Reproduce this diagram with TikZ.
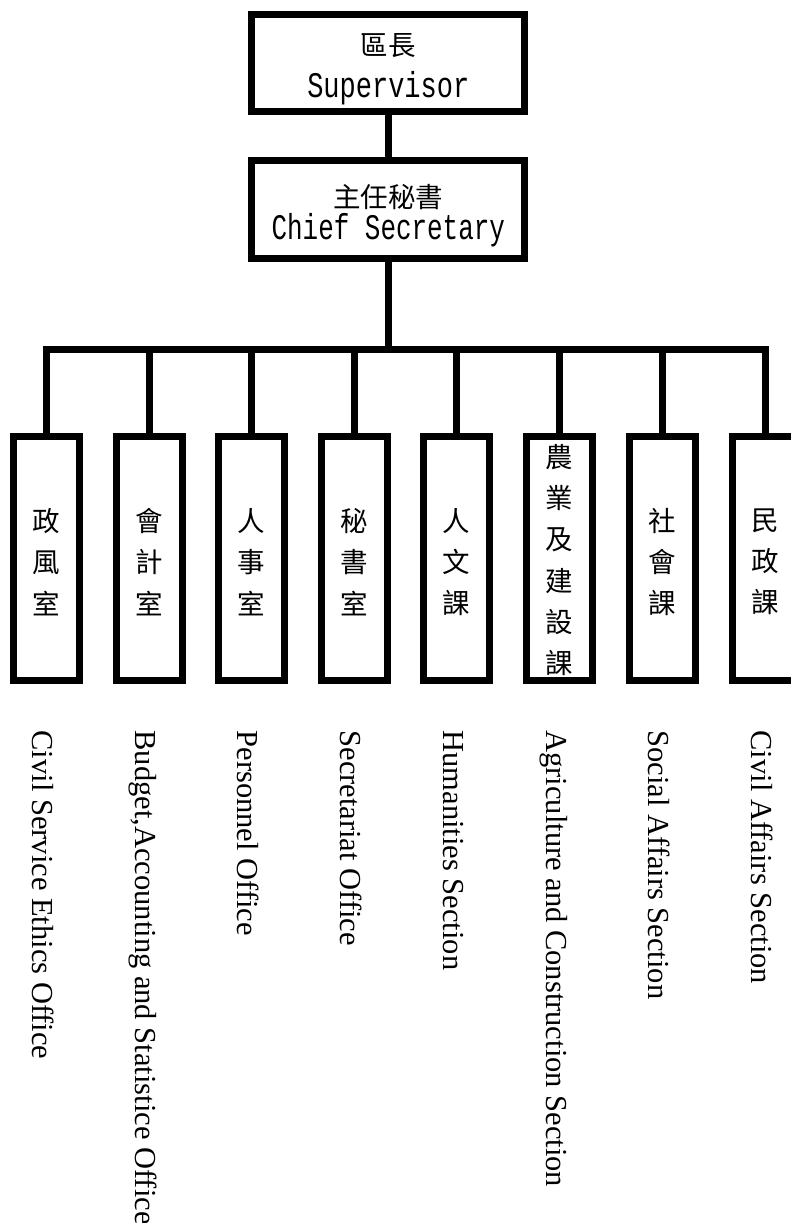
\documentclass[tikz,border=0pt]{standalone}
\usepackage{fontspec}
\setmainfont{Liberation Serif}
\newfontfamily\cjk{Noto Sans CJK TC}
\newfontfamily\monoA[FakeStretch=0.75]{Liberation Mono}
\newfontfamily\monoB[FakeStretch=0.72]{Liberation Mono}
\begin{document}
\begin{tikzpicture}[x=1pt,y=-1pt,line width=7pt,
  box/.style={draw,inner sep=0pt},
  headbox/.style={box,minimum width=273.3pt,minimum height=97.7pt},
  unitbox/.style={box,minimum width=66pt,minimum height=244.3pt},
  zhhead/.style={font=\cjk\fontsize{27.5}{27.5}\selectfont,inner sep=0pt},
  enheadA/.style={font=\monoA\fontsize{36}{36}\selectfont,inner sep=0pt,anchor=base},
  enheadB/.style={font=\monoB\fontsize{36}{36}\selectfont,inner sep=0pt,anchor=base},
  zhunit/.style={font=\cjk\fontsize{27.5}{41.2}\selectfont,align=center,inner sep=0pt},
  enlabel/.style={font=\fontsize{30.5}{30.5}\selectfont,rotate=-90,anchor=base west,inner sep=0pt}]
\clip (0,0) rectangle (791,1223);
\fill[white] (0,0) rectangle (791,1223);
% head boxes
\node[headbox] (sup) at (388.3,62.9) {};
\node[zhhead] (supzh) at (388.3,46) {區長};
\node[enheadA] (supen) at (388.3,97) {Supervisor};
\node[headbox] (chief) at (388.3,209.2) {};
\node[zhhead] (chiefzh) at (388.3,197.5) {主任秘書};
\node[enheadB] (chiefen) at (388.3,239) {Chief Secretary};
% unit boxes
\node[unitbox] (u1) at (46,558.3) {};
\node[unitbox] (u2) at (149,558.3) {};
\node[unitbox] (u3) at (251,558.3) {};
\node[unitbox] (u4) at (354,558.3) {};
\node[unitbox] (u5) at (456.5,558.3) {};
\node[unitbox] (u6) at (559.5,558.3) {};
\node[unitbox] (u7) at (662,558.3) {};
\node[unitbox] (u8) at (765,558.3) {};
% unit texts
\node[zhunit] (z1) at (46,562) {政\\風\\室};
\node[zhunit] (z2) at (149,562) {會\\計\\室};
\node[zhunit] (z3) at (251,562) {人\\事\\室};
\node[zhunit] (z4) at (354,562) {秘\\書\\室};
\node[zhunit] (z5) at (456.5,562) {人\\文\\課};
\node[zhunit] (z6) at (559.5,560) {農\\業\\及\\建\\設\\課};
\node[zhunit] (z7) at (662,562) {社\\會\\課};
\node[zhunit] (z8) at (765,562) {民\\政\\課};
% english labels
\node[enlabel] (e1) at (32.5,727) {Civil Service Ethics Office};
\node[enlabel] (e2) at (135.5,727) {Budget,Accounting and Statistice Office};
\node[enlabel] (e3) at (237.5,727) {Personnel Office};
\node[enlabel] (e4) at (340.5,727) {Secretariat Office};
\node[enlabel] (e5) at (443,727) {Humanities Section};
\node[enlabel] (e6) at (546,727) {Agriculture and Construction Section};
\node[enlabel] (e7) at (648.5,727) {Social Affairs Section};
\node[enlabel] (e8) at (751.5,727) {Civil Affairs Section};
% connectors
\coordinate (bar) at (388.3,349);
\draw (sup.south) -- (chief.north);
\draw (chief.south) -- (bar);
\draw (u1.north) |- (u8.north |- bar) -- (u8.north);
\foreach \k in {2,...,7} {\draw (u\k.north) -- (u\k.north |- bar);}
\end{tikzpicture}
\end{document}
